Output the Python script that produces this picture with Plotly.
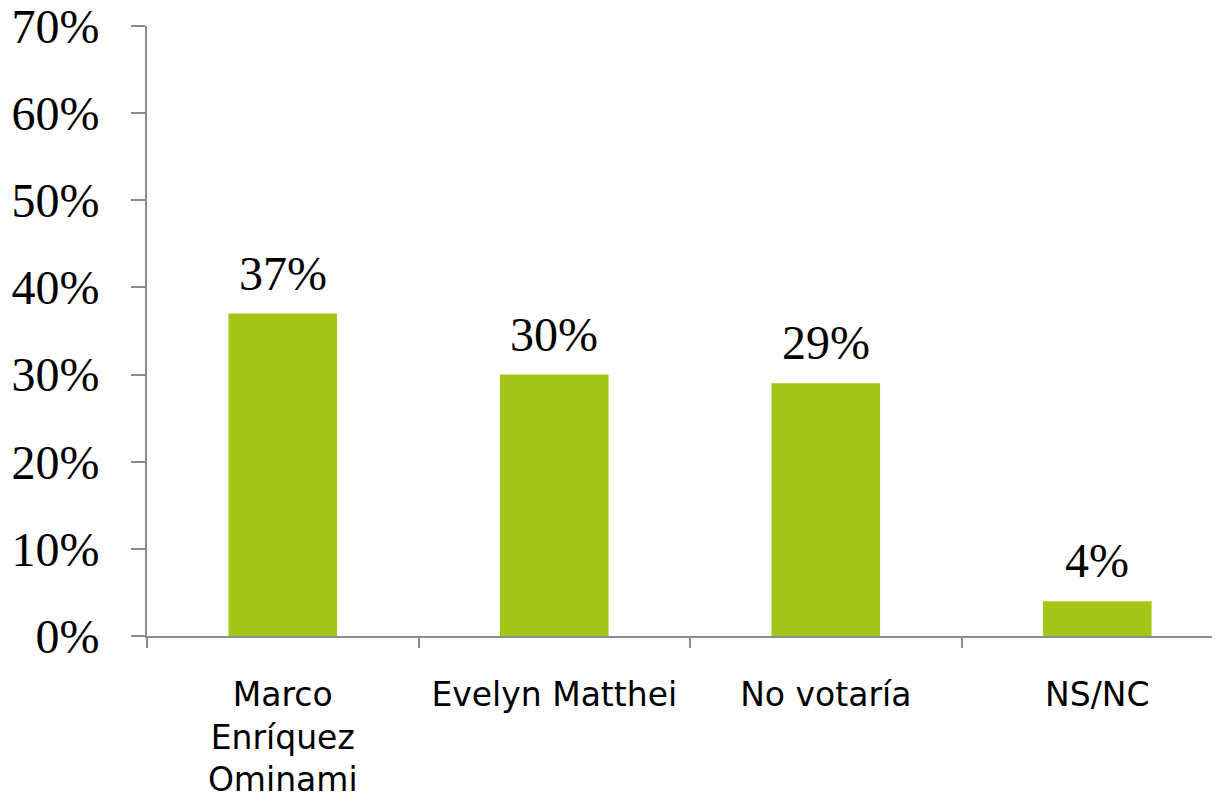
import plotly.graph_objects as go

categories = ["Marco<br>Enríquez<br>Ominami", "Evelyn Matthei", "No votaría", "NS/NC"]
values = [0.37, 0.30, 0.29, 0.04]
y_ticks = [0, 0.1, 0.2, 0.3, 0.4, 0.5, 0.6, 0.7]

BAR = "#A3C617"
AXIS = "#8C8C8C"

fig = go.Figure(go.Bar(
    x=categories, y=values, width=0.4,
    marker=dict(color=BAR, line=dict(width=0)),
    hoverinfo="x+y",
))

for c, v in zip(categories, values):
    fig.add_annotation(
        x=c, y=v, text=f"{v:.0%}", showarrow=False, yanchor="bottom", yshift=12,
        font=dict(family="Liberation Serif", size=48, color="#000"),
    )

fig.update_layout(
    width=1212, height=795,
    margin=dict(l=139, r=0, t=18, b=167),
    plot_bgcolor="white", paper_bgcolor="white",
    showlegend=False,
    xaxis=dict(
        range=[-0.5, 3.452], tickson="boundaries", ticks="outside", ticklen=10,
        tickcolor=AXIS, tickwidth=2, showline=True, linecolor=AXIS, linewidth=2,
        showgrid=False, ticklabelstandoff=28, automargin=False,
        ticklabeloverflow="allow",
        tickfont=dict(family="DejaVu Sans", size=33, color="#000"),
    ),
    yaxis=dict(
        range=[0, 0.70001], tickvals=y_ticks, tickformat=".0%", ticks="outside", ticklen=14,
        tickcolor=AXIS, tickwidth=2, showline=True, linecolor=AXIS, linewidth=2,
        showgrid=False, zeroline=False, ticklabelstandoff=22, automargin=False,
        ticklabeloverflow="allow",
        tickfont=dict(family="Liberation Serif", size=48, color="#000"),
    ),
)

fig.write_html("out.html")
